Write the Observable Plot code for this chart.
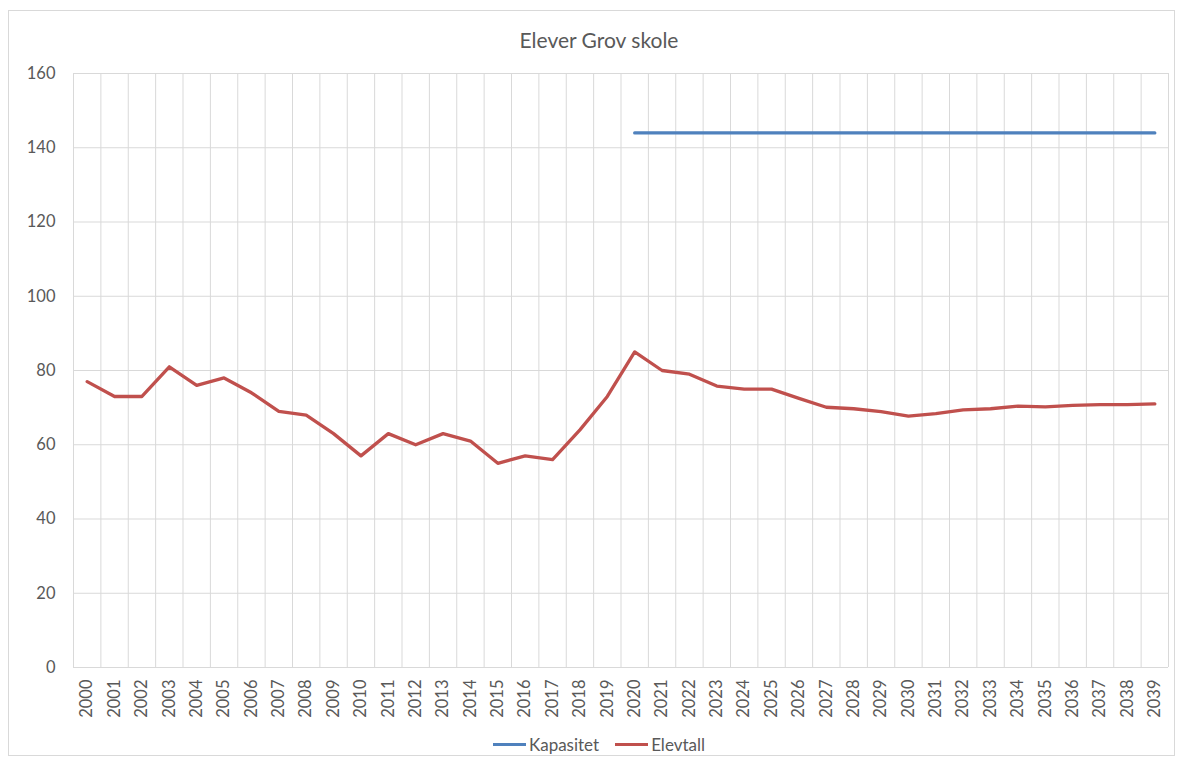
<!DOCTYPE html>
<html>
<head>
<meta charset="utf-8">
<script src="https://cdn.jsdelivr.net/npm/d3@7"></script>
<script src="https://cdn.jsdelivr.net/npm/@observablehq/plot@0.6"></script>
<style>
  html, body { margin: 0; padding: 0; background: #fff; }
  body { width: 1178px; height: 760px; position: relative; overflow: hidden; font-family: Lato, "Open Sans", sans-serif; }
  #frame { position: absolute; left: 8px; top: 10px; width: 1167px; height: 746px; border: 1px solid #d9d9d9; box-sizing: border-box; }
  #title { position: absolute; left: 0; width: 1198px; top: 27px; text-align: center; font-size: 21px; color: #595959; }
  #chart { position: absolute; left: 0; top: 60px; }
  #legend { position: absolute; top: 734px; left: 0; width: 1198px; display: flex; justify-content: center; font-size: 17px; color: #595959; gap: 0; }
  .item { display: flex; align-items: center; margin: 0 8px; }
  .sw { display: inline-block; width: 33px; height: 3px; margin-right: 3px; }
</style>
</head>
<body>
<div id="frame"></div>
<div id="title">Elever Grov skole</div>
<div id="chart"></div>
<div id="legend"></div>
<script>
const years = d3.range(2000, 2040);
const elevtall = [77, 73, 73, 81, 76, 78, 74, 69, 68, 63, 57, 63, 60, 63, 61, 55, 57, 56, 64, 73,
                  85, 80, 79, 75.8, 75, 75, 72.5, 70.1, 69.7, 68.9, 67.7, 68.4, 69.4, 69.7, 70.4, 70.2, 70.6, 70.8, 70.8, 71];
const kapasitetYears = d3.range(2020, 2040);
const kapasitet = kapasitetYears.map(() => 144);
const yTicks = [0, 20, 40, 60, 80, 100, 120, 140, 160];
const seriesNames = ["Kapasitet", "Elevtall"];
const seriesColors = ["#4F81BD", "#C0504D"];

const elevData = years.map((y, i) => ({year: y, value: elevtall[i]}));
const kapData = kapasitetYears.map((y, i) => ({year: y, value: kapasitet[i]}));
const gridX = years.map(y => y - 0.5).concat([years[years.length - 1] + 0.5]);

const chart = Plot.plot({
  width: 1178,
  height: 660,
  marginLeft: 73,
  marginRight: 10,
  marginTop: 13,
  marginBottom: 53,
  style: {fontFamily: "Lato, 'Open Sans', sans-serif", fontSize: "16.5px", color: "#595959", background: "transparent"},
  x: {domain: [years[0] - 0.5, years[years.length - 1] + 0.5]},
  y: {domain: [0, 160]},
  marks: [
    Plot.ruleY(yTicks, {stroke: "#d9d9d9", strokeWidth: 1}),
    Plot.ruleX(gridX, {stroke: "#d9d9d9", strokeWidth: 1}),
    Plot.axisY({ticks: yTicks, tickSize: 0, tickPadding: 18, label: null, fill: "#595959"}),
    Plot.axisX({ticks: years, tickSize: 0, tickPadding: 12, tickRotate: -90, tickFormat: d => String(d), label: null, fill: "#595959"}),
    Plot.lineY(kapData, {x: "year", y: "value", stroke: seriesColors[0], strokeWidth: 3.3, strokeLinejoin: "round", strokeLinecap: "round"}),
    Plot.lineY(elevData, {x: "year", y: "value", stroke: seriesColors[1], strokeWidth: 3.3, strokeLinejoin: "round", strokeLinecap: "round"})
  ]
});
document.getElementById("chart").appendChild(chart);

const legend = document.getElementById("legend");
seriesNames.forEach((n, i) => {
  const it = document.createElement("div");
  it.className = "item";
  const sw = document.createElement("span");
  sw.className = "sw";
  sw.style.background = seriesColors[i];
  it.appendChild(sw);
  const t = document.createElement("span");
  t.textContent = n;
  it.appendChild(t);
  legend.appendChild(it);
});
</script>
</body>
</html>
